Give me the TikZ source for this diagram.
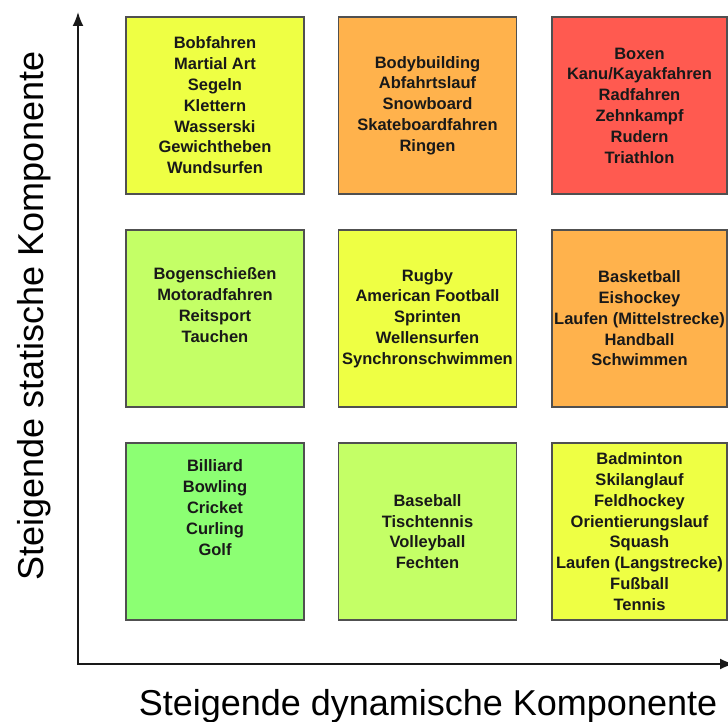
\documentclass[tikz,border=0pt]{standalone}
\usepackage{fontspec}
\setmainfont{Liberation Sans}
\usetikzlibrary{arrows.meta}
\definecolor{cyel}{RGB}{238,255,68}
\definecolor{corange}{RGB}{255,178,76}
\definecolor{cred}{RGB}{255,90,80}
\definecolor{clgreen}{RGB}{196,255,102}
\definecolor{cgreen}{RGB}{140,255,115}
\definecolor{cframe}{RGB}{80,80,80}
\tikzset{
  sportbox/.style={draw=cframe, line width=1.2pt, rectangle, inner sep=0pt, outer sep=0pt,
    minimum width=178pt, minimum height=177pt, align=center,
    font=\fontsize{16.5}{20.8}\selectfont\bfseries, text=black!90},
  axisline/.style={line width=1.8pt, draw=black!90, line join=miter,
    {Latex[length=14pt,width=11pt]}-{Latex[length=14pt,width=11pt]}},
  axislabel/.style={font=\fontsize{36}{40}\selectfont, text=black, inner sep=0pt, anchor=base}
}
\begin{document}
\begin{tikzpicture}[x=1pt,y=-1pt]
\useasboundingbox (0,0) rectangle (728,722);
% row 1
\node[sportbox, fill=cyel] (b11) at (215,105.5) {Bobfahren\\Martial Art\\Segeln\\Klettern\\Wasserski\\Gewichtheben\\Wundsurfen};
\node[sportbox, fill=corange] (b12) at (427.5,105.5) {Bodybuilding\\Abfahrtslauf\\Snowboard\\Skateboardfahren\\Ringen};
\node[sportbox, fill=cred, minimum width=175pt] (b13) at (639.5,105.5) {Boxen\\Kanu/Kayakfahren\\Radfahren\\Zehnkampf\\Rudern\\Triathlon};
% row 2
\node[sportbox, fill=clgreen] (b21) at (215,318.5) {Bogenschießen\\Motoradfahren\\Reitsport\\Tauchen\\\strut};
\node[sportbox, fill=cyel] (b22) at (427.5,318.5) {Rugby\\American Football\\Sprinten\\Wellensurfen\\Synchronschwimmen};
\node[sportbox, fill=corange, minimum width=175pt] (b23) at (639.5,318.5) {Basketball\\Eishockey\\Laufen (Mittelstrecke)\\Handball\\Schwimmen};
% row 3
\node[sportbox, fill=cgreen] (b31) at (215,531.5) {Billiard\\Bowling\\Cricket\\Curling\\Golf\\\strut\\\strut};
\node[sportbox, fill=clgreen] (b32) at (427.5,531.5) {Baseball\\Tischtennis\\Volleyball\\Fechten};
\node[sportbox, fill=cyel, minimum width=175pt] (b33) at (639.5,531.5) {Badminton\\Skilanglauf\\Feldhockey\\Orientierungslauf\\Squash\\Laufen (Langstrecke)\\Fußball\\Tennis};
% axes
\coordinate (ytop) at (78,12);
\coordinate (orig) at (78,664);
\coordinate (xend) at (734,664);
\draw[axisline] (ytop) -- (orig) -- (xend);
% axis labels
\node[axislabel, rotate=90] (ylab) at (43,316) {Steigende statische Komponente};
\node[axislabel] (xlab) at (428,715) {Steigende dynamische Komponente};
\end{tikzpicture}
\end{document}
